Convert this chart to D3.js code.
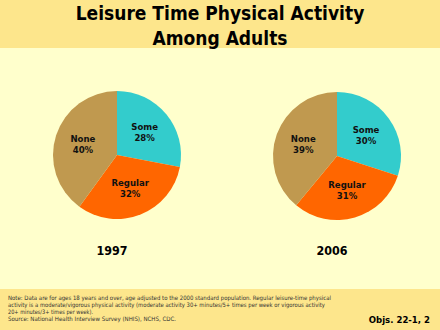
<!DOCTYPE html>
<html>
<head>
<meta charset="utf-8">
<script src="https://cdn.jsdelivr.net/npm/d3@7"></script>
<style>
  html, body { margin: 0; padding: 0; background: #ffffcc; }
  svg { display: block; }
</style>
</head>
<body>
<div id="chart"></div>
<script>
// Activity levels, listed clockwise from 12 o'clock
const categories = ["Some", "Regular", "None"];
const years = ["1997", "2006"];
const values1997 = [28, 32, 40];
const values2006 = [30, 31, 39];
const sliceColors = ["#33cccc", "#ff6600", "#c0994f"];
const titleLines = ["Leisure Time Physical Activity", "Among Adults"];
const noteLines = [
  "Note:  Data are for ages 18 years and over, age adjusted to the 2000 standard population. Regular leisure-time physical",
  "activity is a moderate/vigorous physical activity (moderate activity 30+ minutes/5+ times per week or vigorous activity",
  "20+ minutes/3+ times per week).",
  "Source: National Health Interview Survey (NHIS), NCHS, CDC."
];
const objText = "Objs. 22-1, 2";

const W = 440, H = 330;
const svg = d3.select("#chart").append("svg").attr("width", W).attr("height", H);

// Bands
svg.append("rect").attr("x", 0).attr("y", 0).attr("width", W).attr("height", H).attr("fill", "#ffffcc");
svg.append("rect").attr("x", 0).attr("y", 0).attr("width", W).attr("height", 48).attr("fill", "#fde68c");
svg.append("rect").attr("x", 0).attr("y", 289).attr("width", W).attr("height", H - 289).attr("fill", "#fde68c");

const font = "'DejaVu Sans', Verdana, sans-serif";
const condFont = "'DejaVu Sans Condensed', 'DejaVu Sans', sans-serif";

// Fit a text element to a target width
function fit(sel, target) {
  const w = sel.node().getComputedTextLength();
  if (w > target) sel.attr("textLength", target).attr("lengthAdjust", "spacingAndGlyphs");
}

// Title
const titleY = [20, 45], titleW = [290, 137];
titleLines.forEach((t, i) => {
  const el = svg.append("text")
    .attr("x", W / 2).attr("y", titleY[i])
    .attr("text-anchor", "middle")
    .attr("font-family", condFont).attr("font-weight", "bold")
    .attr("font-size", 19).attr("fill", "#000")
    .text(t);
  fit(el, titleW[i]);
});

// Pies
const radius = 64;
const pie = d3.pie().sort(null).value(d => d);
const arc = d3.arc().innerRadius(0).outerRadius(radius);
const labelArc = d3.arc().innerRadius(radius * 0.56).outerRadius(radius * 0.56);
const color = d3.scaleOrdinal().domain(categories).range(sliceColors);

const pies = [
  { year: years[0], values: values1997, cx: 117, cy: 155 },
  { year: years[1], values: values2006, cx: 337, cy: 156 }
];

pies.forEach(p => {
  const g = svg.append("g").attr("transform", `translate(${p.cx},${p.cy})`);
  const arcs = pie(p.values);
  g.selectAll("path").data(arcs).join("path")
    .attr("d", arc)
    .attr("fill", (d, i) => color(categories[i]));

  const lab = g.selectAll("text.lab").data(arcs).join("text")
    .attr("class", "lab")
    .attr("transform", d => { const c = labelArc.centroid(d); return `translate(${c[0]},${c[1]})`; })
    .attr("text-anchor", "middle")
    .attr("font-family", condFont).attr("font-weight", "bold")
    .attr("font-size", 9.5).attr("fill", "#111");
  lab.append("tspan").attr("x", 0).attr("y", -2).text((d, i) => categories[i]);
  lab.append("tspan").attr("x", 0).attr("y", 9).text(d => d.data + "%");

  const yl = svg.append("text")
    .attr("x", p.cx - 5).attr("y", 255)
    .attr("text-anchor", "middle")
    .attr("font-family", condFont).attr("font-weight", "bold")
    .attr("font-size", 13).attr("fill", "#000")
    .text(p.year);
  fit(yl, 31);
});

// Footnote
const noteY = [300, 307, 314, 321], noteW = [323, 317, 85, 168];
noteLines.forEach((t, i) => {
  const el = svg.append("text")
    .attr("x", 8).attr("y", noteY[i])
    .attr("font-family", font)
    .attr("font-size", 6).attr("fill", "#333")
    .text(t);
  fit(el, noteW[i]);
});

svg.append("text")
  .attr("x", 430).attr("y", 323)
  .attr("text-anchor", "end")
  .attr("font-family", condFont).attr("font-weight", "bold")
  .attr("font-size", 9.5).attr("fill", "#000")
  .text(objText);
</script>
</body>
</html>
